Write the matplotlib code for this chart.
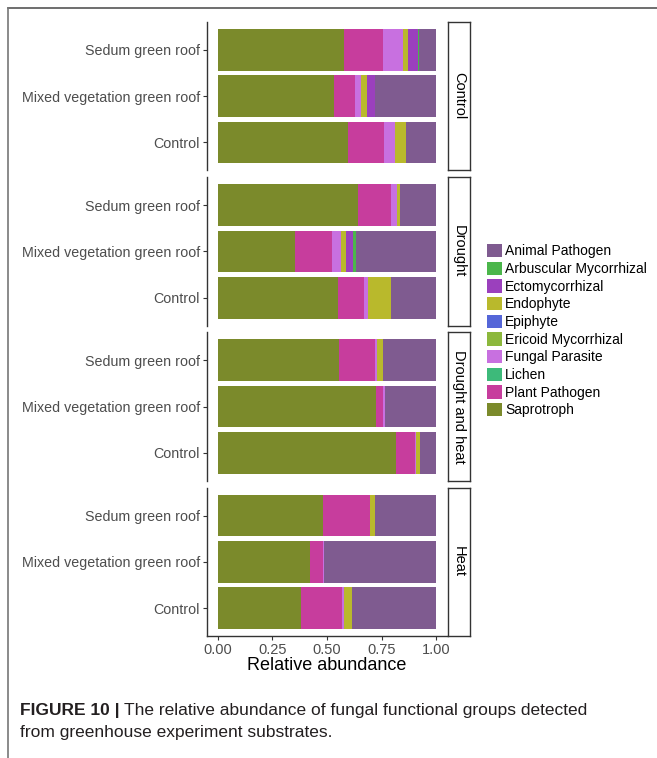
import numpy as np
import matplotlib.pyplot as plt
from matplotlib.patches import Patch
from matplotlib.lines import Line2D

plt.rcParams['font.family'] = ['Liberation Sans', 'DejaVu Sans']

# Facets (top to bottom) and substrates (top to bottom within a facet)
treatments = ['Control', 'Drought', 'Drought and heat', 'Heat']
substrates = ['Sedum green roof', 'Mixed vegetation green roof', 'Control']

# Relative abundance per functional group.
# order: for each treatment -> [Sedum, Mixed vegetation, Control]
saprotroph = [0.578, 0.531, 0.596,
              0.642, 0.353, 0.549,
              0.553, 0.725, 0.815,
              0.480, 0.421, 0.379]
plant_pathogen = [0.179, 0.097, 0.167,
                  0.150, 0.170, 0.121,
                  0.166, 0.033, 0.089,
                  0.216, 0.059, 0.191]
lichen = [0.0, 0.0, 0.0,
          0.0, 0.0, 0.0,
          0.0, 0.0, 0.0,
          0.0, 0.0, 0.0]
fungal_parasite = [0.092, 0.028, 0.049,
                   0.028, 0.041, 0.018,
                   0.009, 0.006, 0.006,
                   0.002, 0.006, 0.008]
ericoid = [0.0, 0.0, 0.0,
           0.0, 0.0, 0.0,
           0.0, 0.0, 0.0,
           0.0, 0.0, 0.0]
epiphyte = [0.0, 0.0, 0.0,
            0.0, 0.0, 0.0,
            0.0, 0.0, 0.0,
            0.0, 0.0, 0.0]
endophyte = [0.024, 0.028, 0.049,
             0.015, 0.022, 0.106,
             0.030, 0.000, 0.017,
             0.023, 0.000, 0.035]
ectomycorrhizal = [0.044, 0.036, 0.000,
                   0.000, 0.032, 0.000,
                   0.000, 0.000, 0.000,
                   0.000, 0.000, 0.000]
arbuscular = [0.005, 0.000, 0.000,
              0.000, 0.017, 0.000,
              0.000, 0.000, 0.000,
              0.000, 0.000, 0.000]
animal_pathogen = [0.078, 0.280, 0.139,
                   0.165, 0.365, 0.206,
                   0.242, 0.236, 0.073,
                   0.279, 0.514, 0.387]

legend_labels = ['Animal Pathogen', 'Arbuscular Mycorrhizal', 'Ectomycorrhizal',
                 'Endophyte', 'Epiphyte', 'Ericoid Mycorrhizal',
                 'Fungal Parasite', 'Lichen', 'Plant Pathogen', 'Saprotroph']
colors = {
    'Animal Pathogen': '#7f5b90',
    'Arbuscular Mycorrhizal': '#4bb64b',
    'Ectomycorrhizal': '#9b40bd',
    'Endophyte': '#b9b92c',
    'Epiphyte': '#5566d8',
    'Ericoid Mycorrhizal': '#8cb83c',
    'Fungal Parasite': '#c870e0',
    'Lichen': '#3dba7a',
    'Plant Pathogen': '#c73d9d',
    'Saprotroph': '#7b8a2b',
}
# stacking order left -> right (reverse of legend)
series = {
    'Saprotroph': saprotroph,
    'Plant Pathogen': plant_pathogen,
    'Lichen': lichen,
    'Fungal Parasite': fungal_parasite,
    'Ericoid Mycorrhizal': ericoid,
    'Epiphyte': epiphyte,
    'Endophyte': endophyte,
    'Ectomycorrhizal': ectomycorrhizal,
    'Arbuscular Mycorrhizal': arbuscular,
    'Animal Pathogen': animal_pathogen,
}

W, H = 657, 758
fig = plt.figure(figsize=(W / 100, H / 100), dpi=100)


def px(x0, y0, x1, y1):
    """Pixel box (top-left origin) -> figure fraction rect."""
    return [x0 / W, 1 - y1 / H, (x1 - x0) / W, (y1 - y0) / H]


axis_col = '#333333'
panel_h = 148.25
gap = 7
top0 = 22
ypos = np.arange(3)[::-1]  # Sedum at top

for i, treat in enumerate(treatments):
    yt = top0 + i * (panel_h + gap)
    yb = yt + panel_h
    ax = fig.add_axes(px(207, yt, 447, yb))
    left = np.zeros(3)
    for name, vals in series.items():
        v = np.array(vals[i * 3:(i + 1) * 3])
        ax.barh(ypos, v, left=left, height=0.9, color=colors[name],
                edgecolor='none', linewidth=0)
        left += v
    ax.set_xlim(-0.05, 1.05)
    ax.set_ylim(-0.6, 2.6)
    ax.set_yticks(ypos)
    ax.set_yticklabels(substrates, fontsize=10.3, color='#4d4d4d')
    for s in ['top', 'right']:
        ax.spines[s].set_visible(False)
    ax.spines['left'].set_color(axis_col)
    ax.spines['left'].set_linewidth(1.0)
    ax.tick_params(axis='y', length=3, width=0.8, color=axis_col, pad=2)
    if i < len(treatments) - 1:
        ax.spines['bottom'].set_visible(False)
        ax.set_xticks([])
    else:
        ax.spines['bottom'].set_color(axis_col)
        ax.spines['bottom'].set_linewidth(1.0)
        ax.set_xticks([0, 0.25, 0.5, 0.75, 1.0])
        ax.set_xticklabels(['0.00', '0.25', '0.50', '0.75', '1.00'],
                           fontsize=10.5, color='#4d4d4d')
        ax.tick_params(axis='x', length=3, width=0.8, color=axis_col, pad=2)
        ax.set_xlabel('Relative abundance', fontsize=13, labelpad=0)

    # facet strip
    sax = fig.add_axes(px(448, yt, 470, yb))
    sax.set_xticks([])
    sax.set_yticks([])
    for s in sax.spines.values():
        s.set_color(axis_col)
        s.set_linewidth(1.0)
    sax.text(0.5, 0.5, treat, rotation=270, ha='center', va='center',
             fontsize=10.5, transform=sax.transAxes)

handles = [Patch(facecolor=colors[n], edgecolor='none') for n in legend_labels]
fig.legend(handles, legend_labels, loc='upper left',
           bbox_to_anchor=(487 / W, 1 - 244 / H), frameon=False,
           fontsize=10, handlelength=1.1, handleheight=1.1,
           handletextpad=0.2, labelspacing=0.235, borderpad=0,
           borderaxespad=0)

# outer frame lines (top and left)
fig.add_artist(Line2D([8 / W, 1], [1 - 8 / H, 1 - 8 / H], color='#555555',
                      linewidth=1.2, transform=fig.transFigure))
fig.add_artist(Line2D([8 / W, 8 / W], [0, 1 - 8 / H], color='#777777',
                      linewidth=1.2, transform=fig.transFigure))

# caption
cap_size = 12.5
t1 = fig.text(20 / W, 1 - 711 / H, 'FIGURE 10 |', fontsize=cap_size,
              fontweight='bold', color='#231f20', va='center')
fig.canvas.draw()
bb = t1.get_window_extent()
fig.text((bb.x1 + 4) / W, 1 - 711 / H,
         'The relative abundance of fungal functional groups detected',
         fontsize=cap_size, color='#231f20', va='center')
fig.text(20 / W, 1 - 733 / H, 'from greenhouse experiment substrates.',
         fontsize=cap_size, color='#231f20', va='center')

fig.savefig('out.png', dpi=100)
